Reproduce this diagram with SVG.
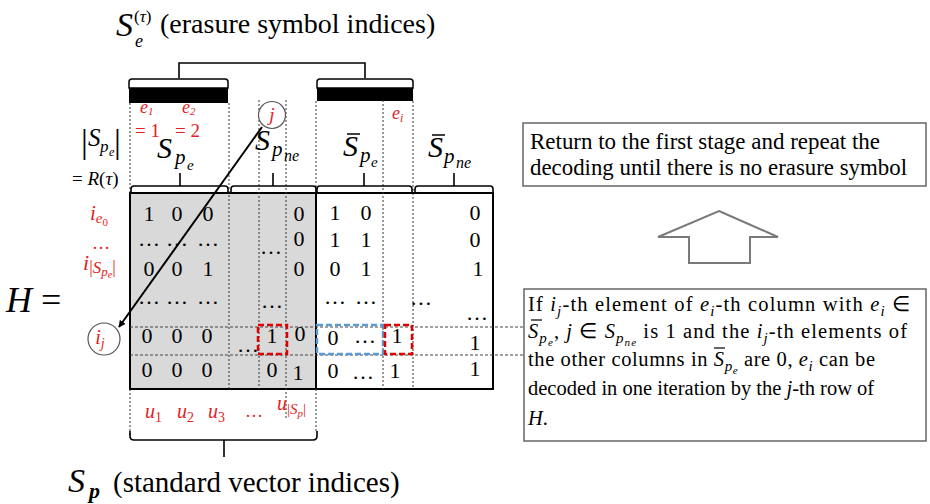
<svg xmlns="http://www.w3.org/2000/svg" width="930" height="504" viewBox="0 0 930 504">
<defs>
<style>
text{font-family:"Liberation Serif","Times New Roman",serif;fill:#000}
.i{font-style:italic}
.r{fill:#e31e24}
.num{font-size:22px;text-anchor:middle}
.dot{stroke:#333;stroke-width:1;stroke-dasharray:2,2;fill:none}
.hd{stroke:#444;stroke-width:1;stroke-dasharray:3,2;fill:none}
.br{fill:none;stroke:#000;stroke-width:1.6}
.box{fill:#fff;stroke:#666;stroke-width:1.5}
.t1{font-size:23px}
.t2{font-size:20.5px}
.rdash{fill:none;stroke:#e00000;stroke-width:2.5;stroke-dasharray:6,3}
.bdash{fill:none;stroke:#5b9bd5;stroke-width:2.5;stroke-dasharray:6,3}
</style>
<marker id="ah" viewBox="0 0 10 10" refX="9" refY="5" markerWidth="7" markerHeight="7" orient="auto" markerUnits="userSpaceOnUse"><path d="M0,0 L10,5 L0,10 z" fill="#000"/></marker>
</defs>
<rect width="930" height="504" fill="#fff"/>

<g id="title">
<text class="i" x="116" y="36" font-size="34">S</text>
<text class="i" x="135" y="47" font-size="18">e</text>
<text x="134" y="22" font-size="17">(<tspan class="i">τ</tspan>)</text>
<text x="160" y="33" font-size="28">(erasure symbol indices)</text>
<path class="br" d="M179,78 V63 H365 V78"/>
</g>

<g id="erasure-bars">
<rect x="129" y="85" width="99" height="18" fill="#000"/>
<path d="M129,88 V82 Q129,79 132,79 H225 Q228,79 228,82 V88 Z" fill="#fff" stroke="#000" stroke-width="1.5"/>
<rect x="317" y="85" width="96" height="16" fill="#000"/>
<path d="M317,88 V82 Q317,79 320,79 H410 Q413,79 413,82 V88 Z" fill="#fff" stroke="#000" stroke-width="1.5"/>
</g>

<g id="matrix">
<rect x="130" y="193" width="186" height="196" fill="#d9d9d9"/>
<line x1="316" y1="193" x2="316" y2="389" stroke="#000" stroke-width="2"/>
<rect x="130" y="193" width="363" height="196" fill="none" stroke="#000" stroke-width="2"/>
</g>

<g id="connectors">
<path class="dot" d="M130,103 V193 M130,389 V438 M229,103 V389 M259,100 V389 M286,100 V420 M316,101 V193 M316,389 V432 M383,100 V389 M413,101 V389"/>
<path class="hd" d="M130,327 H524 M130,355 H524"/>
<line x1="262" y1="127" x2="119" y2="327" stroke="#000" stroke-width="2" marker-end="url(#ah)"/>
</g>

<g id="column-brackets">
<path class="br" d="M131,193 V189 Q131,186 134,186 H225 Q228,186 228,189 V193 M180,186 V173"/>
<path class="br" d="M231,193 V189 Q231,186 234,186 H313 Q316,186 316,189 V193 M273,186 V173"/>
<path class="br" d="M317,193 V189 Q317,186 320,186 H409 Q412,186 412,189 V193 M364,186 V173"/>
<path class="br" d="M415,193 V189 Q415,186 418,186 H490 Q493,186 493,189 V193 M454,186 V173"/>
<path class="br" d="M130,431 V436 Q130,440 134,440 H313 Q317,440 317,436 V431 M224,440 V457"/>
</g>

<g id="column-labels">
<text class="i" x="157" y="158" font-size="30">S</text>
<text class="i" x="175" y="164" font-size="21">p</text>
<text class="i" x="187" y="170" font-size="15">e</text>
<text class="i" x="255" y="150" font-size="30">S</text>
<text class="i" x="272" y="156" font-size="21">p</text>
<text class="i" x="284" y="161" font-size="16">ne</text>
<text class="i" x="343" y="156" font-size="30">S</text>
<line x1="347" y1="134" x2="360" y2="134" stroke="#000" stroke-width="1.5"/>
<text class="i" x="360" y="162" font-size="21">p</text>
<text class="i" x="371" y="167" font-size="15">e</text>
<text class="i" x="428" y="157" font-size="30">S</text>
<line x1="432" y1="135" x2="445" y2="135" stroke="#000" stroke-width="1.5"/>
<text class="i" x="444" y="163" font-size="21">p</text>
<text class="i" x="456" y="168" font-size="16">ne</text>
<text class="i r" x="140" y="113" font-size="18">e<tspan font-size="11" dy="2">1</tspan></text>
<text class="r" x="135" y="137" font-size="19">= 1</text>
<text class="i r" x="182" y="113" font-size="18">e<tspan font-size="11" dy="2">2</tspan></text>
<text class="r" x="175" y="137" font-size="19">= 2</text>
<text class="i r" x="392" y="119" font-size="18">e<tspan font-size="12" dy="3">i</tspan></text>
<g id="node-j"><circle cx="272" cy="115" r="13.5" fill="#fff" stroke="#555" stroke-width="1.2"/><text class="i r" x="272" y="121" font-size="19" text-anchor="middle">j</text></g>
</g>

<g id="row-labels">
<text x="81" y="153" font-size="34">|</text>
<text class="i" x="88" y="146" font-size="25">S</text>
<text class="i" x="100" y="152" font-size="17">p</text>
<text class="i" x="109" y="156" font-size="12">e</text>
<text x="114" y="153" font-size="34">|</text>
<text x="72" y="185" font-size="19">= <tspan class="i">R</tspan>(<tspan class="i">τ</tspan>)</text>
<text x="6" y="312" font-size="36"><tspan class="i">H</tspan> =</text>
<text class="i r" x="90" y="220" font-size="21">i<tspan font-size="15" dy="3">e</tspan><tspan font-size="11" dy="3" font-style="normal">0</tspan></text>
<text class="r" x="92" y="249" font-size="18">…</text>
<text class="i r" x="83" y="270" font-size="22">i<tspan font-size="18" dy="3" font-style="normal">|</tspan><tspan font-size="17">S</tspan><tspan font-size="13" dy="3">p</tspan><tspan font-size="10" dy="2">e</tspan><tspan font-size="18" dy="-5" font-style="normal">|</tspan></text>
<g id="node-ij"><circle cx="104" cy="339" r="16" fill="#fff" stroke="#555" stroke-width="1.2"/><text class="i r" x="100" y="344" font-size="20" text-anchor="middle">i<tspan font-size="14" dy="4">j</tspan></text></g>
</g>

<g id="entries" class="num">
<text x="149" y="221">1</text><text x="177" y="221">0</text><text x="208" y="221">0</text><text x="299" y="221">0</text>
<text x="335" y="220">1</text><text x="366" y="220">0</text><text x="475" y="220">0</text>
<text x="149" y="246">…</text><text x="177" y="246">…</text><text x="208" y="246">…</text><text x="299" y="246">0</text>
<text x="271" y="254">…</text>
<text x="335" y="247">1</text><text x="366" y="247">1</text><text x="475" y="247">0</text>
<text x="149" y="276">0</text><text x="177" y="276">0</text><text x="208" y="276">1</text><text x="299" y="276">0</text>
<text x="335" y="276">0</text><text x="366" y="276">1</text><text x="478" y="276">1</text>
<text x="149" y="304">…</text><text x="177" y="304">…</text><text x="208" y="304">…</text><text x="272" y="308">…</text>
<text x="335" y="304">…</text><text x="366" y="304">…</text><text x="421" y="305">…</text><text x="477" y="320">…</text>
<text x="147" y="343">0</text><text x="177" y="343">0</text><text x="207" y="343">0</text><text x="248" y="352">…</text>
<text x="272" y="343">1</text><text x="300" y="341">0</text>
<text x="333" y="345">0</text><text x="365" y="343">…</text><text x="397" y="343">1</text><text x="475" y="350">1</text>
<text x="147" y="377">0</text><text x="177" y="377">0</text><text x="207" y="377">0</text><text x="272" y="377">0</text><text x="298" y="380">1</text>
<text x="333" y="378">0</text><text x="363" y="379">…</text><text x="395" y="378">1</text><text x="475" y="376">1</text>
<rect class="rdash" x="258" y="325" width="29" height="29"/>
<rect class="bdash" x="317" y="325" width="66" height="29"/>
<rect class="rdash" x="385" y="325" width="27" height="29"/>
</g>

<g id="bottom-labels">
<text class="i r" x="145" y="418" font-size="20">u<tspan font-size="14" dy="4" font-style="normal">1</tspan></text>
<text class="i r" x="177" y="418" font-size="20">u<tspan font-size="14" dy="4" font-style="normal">2</tspan></text>
<text class="i r" x="208" y="418" font-size="20">u<tspan font-size="14" dy="4" font-style="normal">3</tspan></text>
<text class="r" x="254" y="417" font-size="18" text-anchor="middle">…</text>
<text class="i r" x="277" y="410" font-size="20">u<tspan font-size="15" dy="4" font-style="normal">|</tspan><tspan font-size="15">S</tspan><tspan font-size="11" dy="3">p</tspan><tspan font-size="15" dy="-3" font-style="normal">|</tspan></text>
<text class="i" x="68" y="492" font-size="34">S</text>
<text class="i" x="89" y="498" font-size="22" font-weight="bold">p</text>
<text x="113" y="492" font-size="29">(standard vector indices)</text>
</g>

<g id="box-return" class="t1">
<rect class="box" x="523" y="123" width="403" height="63"/>
<text x="530" y="149" textLength="350" lengthAdjust="spacingAndGlyphs">Return to the first stage and repeat the</text>
<text x="530" y="175" textLength="377" lengthAdjust="spacingAndGlyphs">decoding until there is no erasure symbol</text>
</g>

<g id="up-arrow">
<polygon points="719,211 778,237 750,237 750,263 689,263 689,237 658,237" fill="#fff" stroke="#7a7a7a" stroke-width="2"/>
</g>

<g id="box-condition" class="t2">
<rect class="box" x="524" y="289" width="402" height="152"/>
<text x="528" y="311" textLength="382" lengthAdjust="spacing">If <tspan class="i">i</tspan><tspan class="i" font-size="15" dy="5">j</tspan><tspan dy="-5">-th element of  </tspan><tspan class="i">e</tspan><tspan class="i" font-size="15" dy="5">i</tspan><tspan dy="-5">-th column with </tspan><tspan class="i">e</tspan><tspan class="i" font-size="15" dy="5">i</tspan><tspan dy="-5"> ∈</tspan></text>
<text x="528" y="338" textLength="379" lengthAdjust="spacing"><tspan class="i">S</tspan><tspan class="i" font-size="15" dy="5">p</tspan><tspan class="i" font-size="11" dy="3">e</tspan><tspan dy="-8">, </tspan><tspan class="i">j</tspan> ∈ <tspan class="i">S</tspan><tspan class="i" font-size="15" dy="5">p</tspan><tspan class="i" font-size="11" dy="3">ne</tspan><tspan dy="-8">  is 1 and the </tspan><tspan class="i">i</tspan><tspan class="i" font-size="15" dy="5">j</tspan><tspan dy="-5">-th elements of</tspan></text>
<line x1="531" y1="320" x2="542" y2="320" stroke="#000" stroke-width="1.2"/>
<text x="528" y="366" textLength="347" lengthAdjust="spacing">the other columns in <tspan class="i">S</tspan><tspan class="i" font-size="15" dy="5">p</tspan><tspan class="i" font-size="11" dy="3">e</tspan><tspan dy="-8"> are 0, </tspan><tspan class="i">e</tspan><tspan class="i" font-size="15" dy="5">i</tspan><tspan dy="-5"> can be</tspan></text>
<line x1="714" y1="348" x2="725" y2="348" stroke="#000" stroke-width="1.2"/>
<text x="528" y="395">decoded in one iteration by the <tspan class="i">j</tspan>-th row of</text>
<text x="528" y="425"><tspan class="i">H</tspan>.</text>
</g>
</svg>
